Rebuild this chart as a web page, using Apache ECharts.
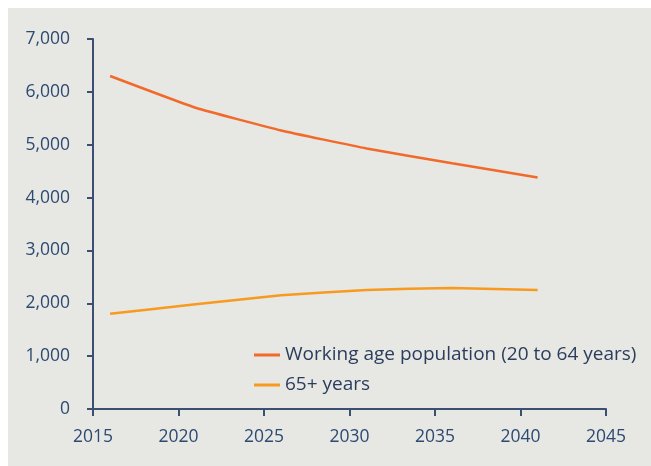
<!DOCTYPE html>
<html>
<head>
<meta charset="utf-8">
<style>
  html, body { margin: 0; padding: 0; background: #ffffff; }
  #chart { width: 651px; height: 466px; }
</style>
<script src="https://cdn.jsdelivr.net/npm/echarts@6/dist/echarts.min.js"></script>
</head>
<body>
<div id="chart"></div>
<script>
// Population projections (thousands)
const years = [2016, 2021, 2026, 2031, 2036, 2041];
const workingAge = [6300, 5700, 5270, 4930, 4650, 4380];
const seniors = [1800, 1980, 2150, 2250, 2290, 2250];
const seriesNames = ['Working age population (20 to 64 years)', '65+ years'];

const axisColor = '#3b5070';
const labelColor = '#2c4a72';
const font = '"Open Sans", "Noto Sans", sans-serif';

const chart = echarts.init(document.getElementById('chart'), null, { renderer: 'canvas' });

chart.setOption({
  animation: false,
  backgroundColor: '#ffffff',
  graphic: [{
    type: 'rect',
    z: -10,
    shape: { x: 8, y: 8, width: 660, height: 470 },
    style: { fill: '#e7e7e3' }
  }],
  grid: { left: 93, top: 39, right: 45, bottom: 57, containLabel: false },
  legend: {
    orient: 'vertical',
    left: 249,
    top: 339,
    itemGap: 8,
    itemWidth: 26,
    itemHeight: 3,
    icon: 'rect',
    textStyle: { fontFamily: font, fontSize: 19, color: '#2b3d5c', lineHeight: 22 },
    data: seriesNames
  },
  xAxis: {
    type: 'value',
    min: 2015,
    max: 2045,
    interval: 5,
    axisLine: { lineStyle: { color: axisColor, width: 2 } },
    axisTick: { length: 7, lineStyle: { color: axisColor, width: 2 } },
    axisLabel: {
      color: labelColor, fontFamily: font, fontSize: 17.5, margin: 19,
      formatter: v => String(v)
    },
    splitLine: { show: false }
  },
  yAxis: {
    type: 'value',
    min: 0,
    max: 7000,
    interval: 1000,
    axisLine: { show: true, lineStyle: { color: axisColor, width: 2 } },
    axisTick: { show: true, length: 6, lineStyle: { color: axisColor, width: 2 } },
    axisLabel: {
      color: labelColor, fontFamily: font, fontSize: 17.5, margin: 23,
      formatter: v => v.toLocaleString('en-US')
    },
    splitLine: { show: false }
  },
  series: [
    {
      name: seriesNames[0],
      type: 'line',
      data: years.map((y, i) => [y, workingAge[i]]),
      smooth: 0.12,
      symbol: 'none',
      lineStyle: { color: '#f26a2a', width: 2.5 },
      itemStyle: { color: '#f26a2a' }
    },
    {
      name: seriesNames[1],
      type: 'line',
      data: years.map((y, i) => [y, seniors[i]]),
      smooth: 0.12,
      symbol: 'none',
      lineStyle: { color: '#f79a1e', width: 2.5 },
      itemStyle: { color: '#f79a1e' }
    }
  ]
});
</script>
</body>
</html>
